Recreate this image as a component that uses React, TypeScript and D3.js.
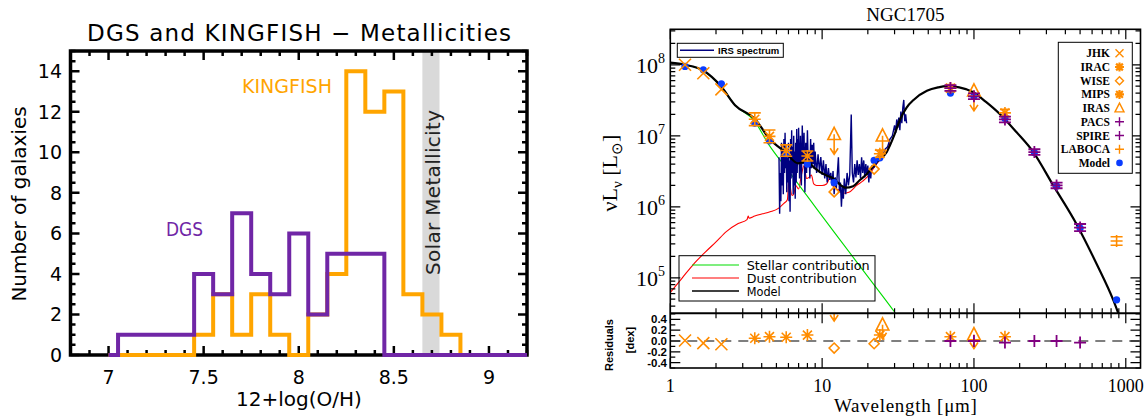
import React from "react";
import * as d3 from "d3";

// ---------- left panel: metallicity histograms ----------
const binStarts = [7.05, 7.15, 7.25, 7.35, 7.45, 7.55, 7.65, 7.75, 7.85, 7.95, 8.05, 8.15, 8.25, 8.35, 8.45, 8.55, 8.65, 8.75, 8.85];
const binWidth = 0.1;
const dgsCounts = [1, 1, 1, 1, 4, 3, 7, 4, 3, 6, 2, 5, 5, 5, 0, 0, 0, 0, 0];
const kingfishCounts = [0, 0, 0, 0, 1, 3, 1, 3, 1, 0, 2, 4, 14, 12, 13, 3, 2, 1, 0];
const solarBand = [8.65, 8.74];
const metalTicks = [7, 7.5, 8, 8.5, 9];
const countTicks = [0, 2, 4, 6, 8, 10, 12, 14];

// ---------- right panel: NGC1705 SED ----------
const modelWave = [1.0, 1.25, 1.65, 2.17, 2.67, 3.6, 4.5, 5.7, 6.95, 8.0, 8.8, 10.7, 11.5, 14.3, 16.0, 17.6, 19.7, 22.9, 26.6, 30, 32.6, 36, 40, 49, 58, 66, 80, 99, 120, 149, 191, 246, 333, 476, 644, 829, 1000];
const modelLum = [1.07e8, 1.0e8, 8.3e7, 4.9e7, 2.7e7, 1.74e7, 9.1e6, 5.9e6, 4.1e6, 4.4e6, 3.6e6, 2.75e6, 2.6e6, 1.86e6, 1.95e6, 2.35e6, 2.9e6, 4.3e6, 5.9e6, 1.05e7, 1.7e7, 2.5e7, 3.2e7, 4.3e7, 4.8e7, 5.0e7, 4.8e7, 4.1e7, 3.0e7, 2.0e7, 1.12e7, 5.9e6, 2.0e6, 5.6e5, 1.55e5, 4.8e4, 1.6e4];

const stellarWave = [1.0, 1.25, 1.65, 2.17, 2.67, 3.6, 4.42, 6.0, 8.4, 12, 20, 30, 40];
const stellarLum = [1.07e8, 1.0e8, 8.2e7, 4.9e7, 2.7e7, 1.6e7, 7.7e6, 3.2e6, 1.22e6, 4.4e5, 1.04e5, 3.3e4, 1.4e4];

const dustWave = [1.0, 1.2, 1.42, 1.7, 2.0, 2.35, 2.8, 3.2, 3.26, 3.3, 3.6, 4.0, 4.54, 5.15, 5.6, 5.9, 6.1, 6.2, 6.35, 6.5, 6.7, 7.0, 7.3, 7.6, 7.9, 8.2, 8.5, 8.8, 9.2, 10.0, 10.7, 11.3, 11.9, 12.8, 13.8, 15.0, 16.9, 18.5, 20.2, 22.4, 24.5, 26.6, 28];
const dustLum = [6.2e4, 1.0e5, 1.55e5, 2.3e5, 3.2e5, 4.5e5, 5.8e5, 6.6e5, 7.4e5, 6.9e5, 7.4e5, 7.9e5, 8.5e5, 9.5e5, 1.12e6, 1.26e6, 3.1e6, 1.78e6, 1.45e6, 1.5e6, 2.0e6, 1.78e6, 2.8e6, 3.8e6, 2.5e6, 2.6e6, 2.8e6, 2.1e6, 2.0e6, 2.0e6, 2.1e6, 2.6e6, 1.9e6, 1.74e6, 1.55e6, 1.6e6, 2.0e6, 2.3e6, 2.75e6, 3.8e6, 4.8e6, 5.9e6, 8.0e6];

const irsWave = [5.2, 5.25, 5.3, 5.35, 5.4, 5.45, 5.5, 5.55, 5.6, 5.65, 5.7, 5.75, 5.8, 5.85, 5.9, 5.95, 6.0, 6.05, 6.1, 6.15, 6.2, 6.25, 6.3, 6.35, 6.4, 6.45, 6.5, 6.55, 6.6, 6.65, 6.7, 6.75, 6.8, 6.85, 6.9, 6.95, 7.0, 7.1, 7.2, 7.3, 7.4, 7.5, 7.6, 7.7, 7.8, 7.9, 8.0, 8.1, 8.2, 8.3, 8.4, 8.5, 8.6, 8.7, 8.8, 8.9, 9.0, 9.2, 9.4, 9.6, 9.8, 10.0, 10.2, 10.4, 10.6, 10.8, 11.0, 11.2, 11.4, 11.6, 11.8, 12.0, 12.2, 12.4, 12.6, 12.8, 13.0, 13.2, 13.4, 13.6, 13.8, 14.0, 14.3, 14.6, 14.9, 15.2, 15.55, 15.8, 16.1, 16.4, 16.7, 17.0, 17.3, 17.6, 17.9, 18.2, 18.5, 18.8, 19.1, 19.4, 19.7, 20.0, 20.3, 20.6, 20.9, 21.2, 21.5, 22, 23, 24, 25, 26, 27, 28, 29, 30, 30.5, 31, 31.5, 32, 32.5, 33, 33.5, 34, 34.5, 35, 35.5, 36];
const irsLum = [5.0e6, 8.0e5, 3.0e6, 1.2e6, 8.0e6, 2.0e6, 6.5e6, 1.5e6, 9.0e6, 3.0e6, 1.1e7, 3.5e6, 7.0e6, 1.6e6, 5.0e6, 2.2e6, 8.0e6, 1.2e6, 4.5e6, 8.5e5, 9.0e6, 2.5e6, 1.2e7, 3.0e6, 7.0e6, 1.5e6, 1.0e7, 2.0e6, 6.0e6, 1.3e6, 8.0e6, 2.2e6, 1.25e7, 3.0e6, 9.0e6, 4.0e6, 1.3e7, 2.5e6, 1.0e7, 2.0e6, 1.4e7, 4.0e6, 1.1e7, 1.6e6, 8.0e6, 3.0e6, 1.2e7, 4.0e6, 6.0e6, 2.5e6, 9.0e6, 3.5e6, 7.5e6, 4.0e6, 8.0e6, 3.5e6, 6.0e6, 3.0e6, 5.5e6, 3.2e6, 5.0e6, 2.8e6, 4.5e6, 2.5e6, 4.0e6, 2.2e6, 3.5e6, 2.4e6, 3.0e6, 2.0e6, 3.2e6, 1.5e6, 2.6e6, 1.8e6, 3.0e6, 5.0e6, 1.6e6, 2.2e6, 1.0e6, 2.0e6, 1.3e6, 2.5e6, 1.5e6, 3.0e6, 2.0e6, 2.8e6, 2.0e7, 3.0e6, 2.2e6, 4.0e6, 2.6e6, 4.5e6, 2.8e6, 4.0e6, 2.5e6, 5.0e6, 3.0e6, 4.5e6, 2.6e6, 4.0e6, 2.8e6, 3.8e6, 2.2e6, 3.5e6, 2.5e6, 3.8e6, 3.5e6, 3.6e6, 4.2e6, 4.8e6, 5.2e6, 6.5e6, 7.0e6, 9.0e6, 1.0e7, 1.4e7, 1.1e7, 1.7e7, 1.3e7, 1.8e7, 1.2e7, 2.2e7, 1.5e7, 2.5e7, 3.2e7, 1.6e7, 2.0e7, 1.5e7];

const dotWave = [1.25, 1.65, 2.17, 3.6, 4.5, 5.8, 8.0, 12, 22, 24, 70, 100, 160, 250, 350, 500, 870];
const dotLum = [9.5e7, 8.5e7, 5.4e7, 1.5e7, 8.5e6, 5.6e6, 4.0e6, 2.2e6, 4.5e6, 4.9e6, 4.0e7, 3.6e7, 1.75e7, 5.8e6, 1.95e6, 5.0e5, 4.9e4];

const jhkWave = [1.25, 1.65, 2.17];
const jhkLum = [1.0e8, 7.6e7, 4.5e7];
const jhkRes = [0.01, -0.04, -0.06];

const iracWave = [3.6, 4.5, 5.8, 8.0];
const iracLum = [1.71e7, 9.8e6, 6.2e6, 5.2e6];
const iracErr = [0.09, 0.09, 0.08, 0.07];
const iracRes = [0.05, 0.08, 0.07, 0.11];

const wiseWave = [12, 22];
const wiseLum = [1.62e6, 3.4e6];
const wiseRes = [-0.13, -0.05];

const mipsWave = [24, 70, 160];
const mipsLum = [5.6e6, 4.7e7, 2.1e7];
const mipsErr = [0.05, 0.05, 0.05];
const mipsRes = [0.11, 0.08, 0.08];

const irasWave = [12, 25, 100];
const irasLum = [1.05e7, 1.0e7, 4.3e7];
const irasRes = [0.63, 0.3, 0.12];

const pacsWave = [70, 100, 160];
const pacsLum = [4.7e7, 3.6e7, 1.7e7];
const pacsErr = [0.04, 0.04, 0.04];
const pacsRes = [0.0, 0.0, -0.03];

const spireWave = [250, 350, 500];
const spireLum = [5.9e6, 2.0e6, 5.1e5];
const spireErr = [0.04, 0.04, 0.05];
const spireRes = [0.0, 0.0, -0.03];

const labocaWave = [870];
const labocaLum = [3.3e5];
const labocaErr = [0.06];

const resTicks = [-0.4, -0.2, 0.0, 0.2, 0.4];
const decadeLabels = [1, 10, 100, 1000];
const lumDecades = [5, 6, 7, 8];

const ORANGE = "#FF8C00";
const PURPLE = "#800080";
const BLUE = "#0A3CFF";
const HIST_ORANGE = "#FFA500";
const HIST_PURPLE = "#7026A6";

// ---------- symbols ----------
const xPath = (x: number, y: number, s: number) => `M${x - s},${y - s}L${x + s},${y + s}M${x - s},${y + s}L${x + s},${y - s}`;
const plusPath = (x: number, y: number, s: number) => `M${x - s},${y}L${x + s},${y}M${x},${y - s}L${x},${y + s}`;
const starPath = (x: number, y: number, s: number) => xPath(x, y, s * 0.75) + plusPath(x, y, s);
const diamondPath = (x: number, y: number, s: number) => `M${x},${y - s}L${x + s},${y}L${x},${y + s}L${x - s},${y}Z`;
const triPath = (x: number, y: number, s: number) => `M${x},${y - s}L${x + s * 0.9},${y + s * 0.75}L${x - s * 0.9},${y + s * 0.75}Z`;
const arrowPath = (x: number, y: number, len: number) => `M${x},${y}L${x},${y + len}M${x - 4},${y + len - 6}L${x},${y + len}L${x + 4},${y + len - 6}`;
const errPath = (x: number, y0: number, y1: number, c: number) => `M${x},${y0}L${x},${y1}M${x - c},${y0}L${x + c},${y0}M${x - c},${y1}L${x + c},${y1}`;

const MetalPanel = () => {
  const mx = d3.scaleLinear().domain([6.8, 9.2]).range([70.5, 527]);
  const my = d3.scaleLinear().domain([0, 15]).range([355, 51]);
  const [x0, x1] = mx.range();
  const [y0, y1] = my.range();

  const hist = (counts: number[]) => {
    const pts: [number, number][] = [[7.0, 0], ...binStarts.map((b, i) => [b, counts[i]] as [number, number]), [binStarts[binStarts.length - 1] + binWidth, 0], [9.2, 0]];
    return d3.line<[number, number]>().x((d) => mx(d[0])).y((d) => my(d[1])).curve(d3.curveStepAfter)(pts) || "";
  };

  const xMinor = d3.range(68, 93).map((i) => i / 10);
  const yMinor = d3.range(0, 31).map((i) => i / 2);
  let ticks = "";
  xMinor.forEach((v) => {
    const major = Math.abs(v * 2 - Math.round(v * 2)) < 1e-6;
    const len = major ? 9 : 5;
    const x = mx(v);
    ticks += `M${x},${y0}L${x},${y0 - len}M${x},${y1}L${x},${y1 + len}`;
  });
  yMinor.forEach((v) => {
    const major = v % 2 === 0;
    const len = major ? 9 : 5;
    const y = my(v);
    ticks += `M${x0},${y}L${x0 + len},${y}M${x1},${y}L${x1 - len},${y}`;
  });

  const font = "DejaVu Sans, sans-serif";
  return (
    <g fontFamily={font}>
      <text x={299} y={41} fontSize={23} textAnchor="middle" textLength={424} lengthAdjust="spacing">
        DGS and KINGFISH − Metallicities
      </text>
      <rect x={mx(solarBand[0])} y={y1} width={mx(solarBand[1]) - mx(solarBand[0])} height={y0 - y1} fill="#d9d9d9" />
      <text transform={`translate(440,192.5) rotate(-90)`} fontSize={20} textAnchor="middle" fill="#222" textLength={165} lengthAdjust="spacing">
        Solar Metallicity
      </text>
      <path d={ticks} stroke="#000" strokeWidth={2.5} fill="none" />
      <rect x={x0} y={y1} width={x1 - x0} height={y0 - y1} fill="none" stroke="#000" strokeWidth={3.5} />
      <path d={hist(kingfishCounts)} fill="none" stroke={HIST_ORANGE} strokeWidth={4} />
      <path d={hist(dgsCounts)} fill="none" stroke={HIST_PURPLE} strokeWidth={4} />
      {countTicks.map((v) => (
        <text key={v} x={62} y={my(v) + 7} fontSize={19} textAnchor="end">{v}</text>
      ))}
      {metalTicks.map((v) => (
        <text key={v} x={mx(v)} y={384} fontSize={19} textAnchor="middle">{v}</text>
      ))}
      <text x={299} y={406} fontSize={20} textAnchor="middle">12+log(O/H)</text>
      <text transform="translate(26,204) rotate(-90)" fontSize={20} textAnchor="middle">Number of galaxies</text>
      <text x={242} y={93} fontSize={19} fill={HIST_ORANGE} textLength={90} lengthAdjust="spacingAndGlyphs">KINGFISH</text>
      <text x={166} y={236} fontSize={19} fill={HIST_PURPLE} textLength={37} lengthAdjust="spacingAndGlyphs">DGS</text>
    </g>
  );
};

const SedPanel = () => {
  const L = 670.3, R = 1140.5, T = 29.3, M = 313.3, B = 368;
  const sx = d3.scaleLog().domain([1, 1250]).range([L, R]);
  const sy = d3.scaleLog().domain([Math.pow(10, 4.5), Math.pow(10, 8.5)]).range([M, T]);
  const ry = d3.scaleLinear().domain([-0.5, 0.5]).range([B, 314]);

  const line = d3.line<[number, number]>().x((d) => sx(d[0])).y((d) => sy(d[1]));
  const smooth = d3.line<[number, number]>().x((d) => sx(d[0])).y((d) => sy(d[1])).curve(d3.curveMonotoneX);
  const zip = (a: number[], b: number[]) => a.map((v, i) => [v, b[i]] as [number, number]);

  // tick marks
  let ticks = "";
  for (let d = 0; d <= 3; d++) {
    for (let m = 1; m <= 9; m++) {
      const v = m * Math.pow(10, d);
      if (v > 1250) continue;
      const x = sx(v);
      const len = m === 1 ? 10 : 5;
      ticks += `M${x},${T}L${x},${T + len}M${x},${M}L${x},${M - len}`;
      ticks += `M${x},${B}L${x},${B - len}M${x},${M}L${x},${M + len}`;
    }
  }
  for (let d = 4; d <= 8; d++) {
    for (let m = 1; m <= 9; m++) {
      const v = m * Math.pow(10, d);
      if (v < Math.pow(10, 4.5) || v > Math.pow(10, 8.5)) continue;
      const y = sy(v);
      const len = m === 1 ? 10 : 5;
      ticks += `M${L},${y}L${L + len},${y}M${R},${y}L${R - len},${y}`;
    }
  }
  d3.range(-5, 6).forEach((i) => {
    const y = ry(i / 10);
    const len = i % 2 === 0 ? 10 : 5;
    ticks += `M${L},${y}L${L + len},${y}M${R},${y}L${R - len},${y}`;
  });

  const serif = "Liberation Serif, Times New Roman, serif";
  const sans = "Liberation Sans, Arial, sans-serif";

  const mainSymbols = (
    <g>
      {dotWave.map((w, i) => (
        <circle key={"d" + i} cx={sx(w)} cy={sy(dotLum[i])} r={3.6} fill={BLUE} />
      ))}
      <g stroke={ORANGE} strokeWidth={1.6} fill="none">
        {jhkWave.map((w, i) => <path key={"j" + i} d={xPath(sx(w), sy(jhkLum[i]), 6)} />)}
        {iracWave.map((w, i) => (
          <path key={"i" + i} d={starPath(sx(w), sy(iracLum[i]), 6) + errPath(sx(w), sy(iracLum[i] * Math.pow(10, -iracErr[i])), sy(iracLum[i] * Math.pow(10, iracErr[i])), 6)} />
        ))}
        {wiseWave.map((w, i) => <path key={"w" + i} d={diamondPath(sx(w), sy(wiseLum[i]), 5)} />)}
        {mipsWave.map((w, i) => (
          <path key={"m" + i} d={starPath(sx(w), sy(mipsLum[i]), 6) + errPath(sx(w), sy(mipsLum[i] * Math.pow(10, -mipsErr[i])), sy(mipsLum[i] * Math.pow(10, mipsErr[i])), 5)} />
        ))}
        {irasWave.map((w, i) => (
          <path key={"r" + i} d={triPath(sx(w), sy(irasLum[i]), 7) + arrowPath(sx(w), sy(irasLum[i]), 20)} />
        ))}
        {labocaWave.map((w, i) => (
          <path key={"l" + i} d={plusPath(sx(w), sy(labocaLum[i]), 6) + errPath(sx(w), sy(labocaLum[i] * Math.pow(10, -labocaErr[i])), sy(labocaLum[i] * Math.pow(10, labocaErr[i])), 6)} />
        ))}
      </g>
      <g stroke={PURPLE} strokeWidth={1.8} fill="none">
        {pacsWave.map((w, i) => (
          <path key={"p" + i} d={plusPath(sx(w), sy(pacsLum[i]), 6) + errPath(sx(w), sy(pacsLum[i] * Math.pow(10, -pacsErr[i])), sy(pacsLum[i] * Math.pow(10, pacsErr[i])), 6)} />
        ))}
        {spireWave.map((w, i) => (
          <path key={"s" + i} d={plusPath(sx(w), sy(spireLum[i]), 6) + errPath(sx(w), sy(spireLum[i] * Math.pow(10, -spireErr[i])), sy(spireLum[i] * Math.pow(10, spireErr[i])), 6)} />
        ))}
      </g>
    </g>
  );

  const resSymbols = (
    <g>
      <g stroke={ORANGE} strokeWidth={1.6} fill="none">
        {jhkWave.map((w, i) => <path key={"j" + i} d={xPath(sx(w), ry(jhkRes[i]), 6)} />)}
        {iracWave.map((w, i) => <path key={"i" + i} d={starPath(sx(w), ry(iracRes[i]), 6)} />)}
        {wiseWave.map((w, i) => <path key={"w" + i} d={diamondPath(sx(w), ry(wiseRes[i]), 5)} />)}
        {mipsWave.map((w, i) => <path key={"m" + i} d={starPath(sx(w), ry(mipsRes[i]), 6)} />)}
        {irasWave.map((w, i) => (
          <path key={"r" + i} d={triPath(sx(w), ry(irasRes[i]), 7) + arrowPath(sx(w), ry(irasRes[i]), 14)} />
        ))}
      </g>
      <g stroke={PURPLE} strokeWidth={1.8} fill="none">
        {pacsWave.map((w, i) => <path key={"p" + i} d={plusPath(sx(w), ry(pacsRes[i]), 6)} />)}
        {spireWave.map((w, i) => <path key={"s" + i} d={plusPath(sx(w), ry(spireRes[i]), 6)} />)}
      </g>
    </g>
  );

  const legendRows: [string, string, string][] = [
    ["JHK", "x", ORANGE],
    ["IRAC", "star", ORANGE],
    ["WISE", "diamond", ORANGE],
    ["MIPS", "star", ORANGE],
    ["IRAS", "tri", ORANGE],
    ["PACS", "plus", PURPLE],
    ["SPIRE", "plus", PURPLE],
    ["LABOCA", "plus", ORANGE],
    ["Model", "dot", BLUE],
  ];
  const legSym = (kind: string, x: number, y: number, c: string) => {
    if (kind === "dot") return <circle cx={x} cy={y} r={3.3} fill={c} />;
    const d =
      kind === "x" ? xPath(x, y, 4) : kind === "star" ? starPath(x, y, 4.5) : kind === "diamond" ? diamondPath(x, y, 4) : kind === "tri" ? triPath(x, y, 5) : plusPath(x, y, 4.5);
    return <path d={d} stroke={c} strokeWidth={kind === "star" ? 2.2 : 1.4} fill="none" />;
  };

  return (
    <g>
      <defs>
        <clipPath id="clipMain">
          <rect x={L} y={T} width={R - L} height={M - T} />
        </clipPath>
        <clipPath id="clipRes">
          <rect x={L} y={M} width={R - L} height={B - M} />
        </clipPath>
      </defs>
      <text x={(L + R) / 2} y={21} fontFamily={serif} fontSize={19} textAnchor="middle">NGC1705</text>

      <g clipPath="url(#clipMain)">
        <path d={smooth(zip(dustWave, dustLum)) || ""} fill="none" stroke="#ff0000" strokeWidth={1.1} />
        <path d={smooth(zip(stellarWave, stellarLum)) || ""} fill="none" stroke="#00dd00" strokeWidth={1.1} />
        <path d={line(zip(irsWave, irsLum)) || ""} fill="none" stroke="#000080" strokeWidth={1.4} />
        <path d={smooth(zip(modelWave, modelLum)) || ""} fill="none" stroke="#000" strokeWidth={2.2} />
        {mainSymbols}
      </g>

      <g clipPath="url(#clipRes)">
        <line x1={L} x2={R} y1={ry(0)} y2={ry(0)} stroke="#000" strokeWidth={1.1} strokeDasharray="10,7" />
        {resSymbols}
      </g>

      <path d={ticks} stroke="#000" strokeWidth={1.2} fill="none" />
      <rect x={L} y={T} width={R - L} height={B - T} fill="none" stroke="#000" strokeWidth={1.6} />
      <line x1={L} x2={R} y1={M} y2={M} stroke="#000" strokeWidth={2} />

      {lumDecades.map((e) => (
        <text key={e} x={665} y={sy(Math.pow(10, e)) + 8} fontFamily={serif} fontSize={22} textAnchor="end">
          10<tspan dy={-10} fontSize={14}>{e}</tspan>
        </text>
      ))}
      <text transform="translate(617,173) rotate(-90)" fontFamily={serif} fontSize={22} textAnchor="middle">
        <tspan>νL</tspan>
        <tspan dy={5} fontSize={15}>ν</tspan>
        <tspan dy={-5}> [L</tspan>
        <tspan dy={5} fontSize={15}>⊙</tspan>
        <tspan dy={-5}>]</tspan>
      </text>

      {resTicks.map((v) => (
        <text key={v} x={667} y={ry(v) + 4} fontFamily={sans} fontWeight="bold" fontSize={11.5} textAnchor="end">
          {v.toFixed(1)}
        </text>
      ))}
      <text transform="translate(613,345) rotate(-90)" fontFamily={sans} fontWeight="bold" fontSize={11} textAnchor="middle">Residuals</text>
      <text transform="translate(634,340) rotate(-90)" fontFamily={sans} fontWeight="bold" fontSize={11} textAnchor="middle">[dex]</text>

      {decadeLabels.map((v) => (
        <text key={v} x={sx(v)} y={392} fontFamily={serif} fontSize={18} textAnchor="middle">{v}</text>
      ))}
      <text x={(L + R) / 2} y={412} fontFamily={serif} fontSize={19} textAnchor="middle" textLength={143} lengthAdjust="spacing">Wavelength [μm]</text>

      {/* IRS legend */}
      <rect x={677.3} y={43.3} width={106} height={14} fill="#fff" stroke="#000" strokeWidth={1} />
      <line x1={680} x2={714} y1={50.3} y2={50.3} stroke="#000080" strokeWidth={1.4} />
      <text x={718} y={54} fontFamily={sans} fontWeight="bold" fontSize={9.5}>IRS spectrum</text>

      {/* photometry legend */}
      <rect x={1058.3} y={42.3} width={74} height={131} fill="#fff" stroke="#000" strokeWidth={1} />
      {legendRows.map(([name, kind, c], i) => {
        const y = 53.3 + i * 13.7;
        return (
          <g key={name}>
            <text x={1110} y={y + 4} fontFamily={serif} fontWeight="bold" fontSize={11.5} textAnchor="end">{name}</text>
            {legSym(kind, 1119.5, y, c)}
          </g>
        );
      })}

      {/* components legend */}
      <rect x={679} y={255.7} width={196} height={45.3} fill="none" stroke="#000" strokeWidth={1} />
      {[
        ["Stellar contribution", "#00dd00", 123],
        ["Dust contribution", "#ff0000", 110],
        ["Model", "#000", 34],
      ].map(([name, c, tl], i) => {
        const y = 265 + i * 13;
        return (
          <g key={name as string}>
            <line x1={692} x2={739} y1={y} y2={y} stroke={c as string} strokeWidth={i === 2 ? 1.6 : 1.2} />
            <text x={746.7} y={y + 4.5} fontFamily="DejaVu Sans, sans-serif" fontSize={12.5} textLength={tl as number} lengthAdjust="spacingAndGlyphs">
              {name as string}
            </text>
          </g>
        );
      })}
    </g>
  );
};

export default function App() {
  return (
    <svg width={1148} height={418} viewBox="0 0 1148 418" style={{ position: "absolute", left: 0, top: 0, background: "#fff" }}>
      <rect width={1148} height={418} fill="#fff" />
      <MetalPanel />
      <SedPanel />
    </svg>
  );
}
